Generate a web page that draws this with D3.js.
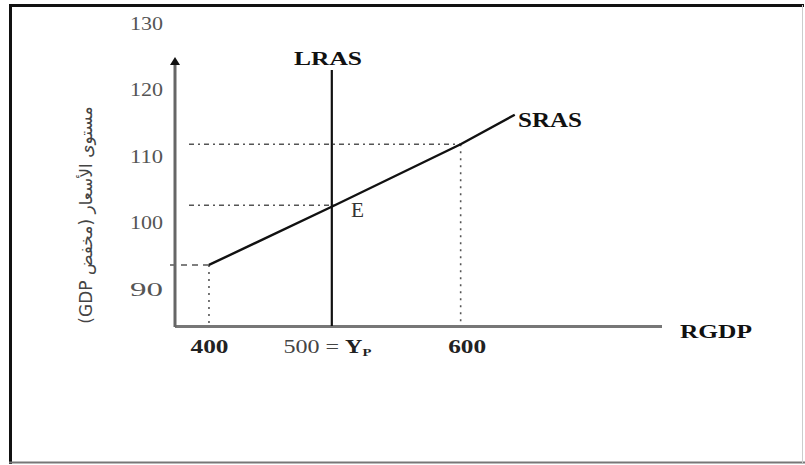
<!DOCTYPE html>
<html><head><meta charset="utf-8">
<script src="https://cdn.jsdelivr.net/npm/d3@7"></script>
<style>body{margin:0;background:#fff}svg{display:block}</style>
</head><body>
<script>
// ---- data ----
const yTicks = [90, 100, 110, 120, 130];
const xTickValues = [400, 500, 600];
const xTickLabels = ["400", "500 = Y", "600"];
const lrasX = 500;
const srasX = [400, 500, 600, 643];
const srasY = [93.6, 102.5, 111.6, 116];
const refPoints = [ // [x, y] guide points with dashed lines
  [400, 93.6], [500, 102.5], [600, 111.6]
];
const yTitle = "مستوى الأسعار (مخفض GDP)";
const xTitle = "RGDP";

const W = 805, H = 465;
const svg = d3.select("body").append("svg").attr("width", W).attr("height", H);

// frame
svg.append("line").attr("x1", 9.5).attr("x2", 804).attr("y1", 5.5).attr("y2", 5.5).attr("stroke", "#111").attr("stroke-width", 3);
svg.append("line").attr("x1", 10.5).attr("x2", 10.5).attr("y1", 4).attr("y2", 464).attr("stroke", "#111").attr("stroke-width", 3);
svg.append("line").attr("x1", 9).attr("x2", 805).attr("y1", 462.5).attr("y2", 462.5).attr("stroke", "#777").attr("stroke-width", 2);
svg.append("line").attr("x1", 802.5).attr("x2", 802.5).attr("y1", 5).attr("y2", 463).attr("stroke", "#ccc").attr("stroke-width", 1);

// scales
const x = d3.scaleLinear().domain([373, 760]).range([175, 662]);
const y = d3.scaleLinear().domain([84.5, 124.6]).range([326, 57]);
// tick labels are drawn slightly offset from the guide lines in the original
const yLab = d3.scaleLinear().domain([90, 130]).range([289, 23]);

// y tick labels via axis
const yAxis = d3.axisLeft(yLab).tickValues(yTicks).tickSize(0).tickPadding(0).tickFormat(d3.format("d"));
const gy = svg.append("g").attr("transform", "translate(163,0)").call(yAxis);
gy.select(".domain").remove();
gy.selectAll("text").attr("font-family", "Liberation Serif").attr("font-size", 18)
  .attr("fill", "#555").attr("dy", "0.35em").attr("textLength", 33).attr("lengthAdjust", "spacingAndGlyphs");

// guide dashed lines
const guideG = svg.append("g").attr("stroke", "#555").attr("stroke-width", 1.6).attr("fill", "none");
refPoints.forEach((p, i) => {
  const startX = i === 0 ? 170 : 189;
  guideG.append("line").attr("x1", startX).attr("x2", x(p[0])).attr("y1", y(p[1])).attr("y2", y(p[1]))
    .attr("stroke-dasharray", i === 0 ? "6,5" : "5,4,2,4");
  if (p[0] !== lrasX) {
    guideG.append("line").attr("x1", x(p[0])).attr("x2", x(p[0])).attr("y1", y(p[1])).attr("y2", y(84.5))
      .attr("stroke-dasharray", "2,5");
  }
});

// axes
svg.append("line").attr("x1", x(373)).attr("x2", x(760)).attr("y1", y(84.5) + 0.5).attr("y2", y(84.5) + 0.5)
  .attr("stroke", "#777").attr("stroke-width", 3);
svg.append("line").attr("x1", x(373)).attr("x2", x(373)).attr("y1", y(84.5) + 1).attr("y2", y(124.6) + 6)
  .attr("stroke", "#666").attr("stroke-width", 3);
svg.append("path").attr("d", d3.line()([[x(373) - 5, y(124.6) + 8], [x(373), y(124.6)], [x(373) + 5, y(124.6) + 8]]) + "Z")
  .attr("fill", "#111");

// x tick labels
const xAxis = d3.axisBottom(x).tickValues(xTickValues).tickSize(0).tickPadding(0).tickFormat((d, i) => xTickLabels[i]);
const gx = svg.append("g").attr("transform", `translate(0,${y(84.5)})`).call(xAxis);
gx.select(".domain").remove();
gx.selectAll("text").attr("font-family", "Liberation Serif").attr("font-size", 18).attr("font-weight", "bold")
  .attr("fill", "#222").attr("dy", "1.5em");
gx.selectAll(".tick").each(function (d, i) {
  const t = d3.select(this).select("text");
  if (i === 1) {
    t.text(null).attr("text-anchor", "start").attr("x", 283 - x(d));
    t.append("tspan").attr("font-weight", "normal").attr("fill", "#444").text("500 = ");
    t.append("tspan").text("Y");
    t.append("tspan").attr("font-size", 11).attr("dy", "0.3em").text("P");
    t.attr("textLength", 88).attr("lengthAdjust", "spacingAndGlyphs");
  } else {
    t.attr("textLength", 38).attr("lengthAdjust", "spacingAndGlyphs").attr("x", i === 2 ? 6 : 0);
  }
});

// LRAS
svg.append("line").attr("x1", x(lrasX) - 3).attr("x2", x(lrasX) - 3).attr("y1", 70).attr("y2", y(84.5))
  .attr("stroke", "#111").attr("stroke-width", 2.2);

// SRAS
const sras = srasX.map((v, i) => [v, srasY[i]]);
svg.append("path").datum(sras)
  .attr("d", d3.line().x(d => x(d[0])).y(d => y(d[1])))
  .attr("fill", "none").attr("stroke", "#111").attr("stroke-width", 2.4);

// labels
function label(txt, xx, yy, len, size, opts = {}) {
  return svg.append("text").attr("x", xx).attr("y", yy).text(txt)
    .attr("font-family", opts.family || "Liberation Serif").attr("font-size", size)
    .attr("font-weight", opts.weight || "bold").attr("fill", opts.fill || "#111")
    .attr("textLength", len).attr("lengthAdjust", "spacingAndGlyphs");
}
label("LRAS", 294, 65, 68, 18);
label("SRAS", 518, 127, 64, 20);
label(xTitle, 680, 338, 72, 19);
label("E", 351, 217, 13, 20, { weight: "normal", fill: "#333" });

// y title (rotated)
svg.append("text").attr("transform", "translate(92,215) rotate(-90)")
  .attr("text-anchor", "middle").attr("font-family", "DejaVu Sans").attr("font-size", 17)
  .attr("fill", "#444").attr("direction", "rtl").text(yTitle);
</script>
</body></html>
